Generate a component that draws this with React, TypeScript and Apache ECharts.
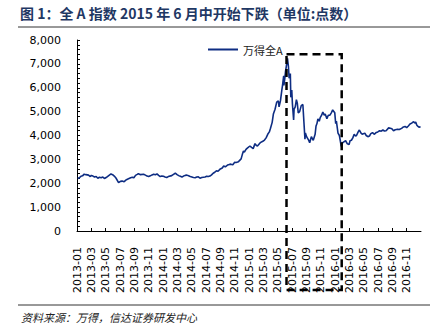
import React, { useEffect, useRef } from "react";
import * as echarts from "echarts";

const seriesName = "万得全A";
const titleText = "图 1：全 A 指数 2015 年 6 月中开始下跌（单位:点数）";
const sourceText = "资料来源：万得，信达证券研发中心";

const dates: string[] = [
  "2013-01-04", "2013-01-11", "2013-01-18", "2013-01-25", "2013-02-01", "2013-02-08", "2013-02-18",
  "2013-02-25", "2013-03-01", "2013-03-08", "2013-03-15", "2013-03-22", "2013-03-29", "2013-04-05",
  "2013-04-12", "2013-04-19", "2013-04-26", "2013-05-03", "2013-05-10", "2013-05-17", "2013-05-24",
  "2013-05-31", "2013-06-07", "2013-06-14", "2013-06-25", "2013-07-03", "2013-07-10", "2013-07-19",
  "2013-07-26", "2013-08-02", "2013-08-09", "2013-08-16", "2013-08-23", "2013-08-30", "2013-09-06",
  "2013-09-13", "2013-09-18", "2013-09-27", "2013-10-10", "2013-10-18", "2013-10-25", "2013-11-01",
  "2013-11-08", "2013-11-15", "2013-11-22", "2013-11-29", "2013-12-06", "2013-12-13", "2013-12-20",
  "2013-12-27", "2014-01-03", "2014-01-10", "2014-01-17", "2014-01-24", "2014-02-07", "2014-02-14",
  "2014-02-21", "2014-02-28", "2014-03-07", "2014-03-14", "2014-03-21", "2014-03-28", "2014-04-04",
  "2014-04-11", "2014-04-18", "2014-04-25", "2014-05-09", "2014-05-16", "2014-05-23", "2014-05-30",
  "2014-06-06", "2014-06-13", "2014-06-20", "2014-06-27", "2014-07-04", "2014-07-11", "2014-07-18",
  "2014-07-25", "2014-08-01", "2014-08-08", "2014-08-15", "2014-08-22", "2014-09-01", "2014-09-09",
  "2014-09-15", "2014-09-22", "2014-10-01", "2014-10-10", "2014-10-15", "2014-10-24", "2014-11-01",
  "2014-11-07", "2014-11-17", "2014-11-21", "2014-11-28", "2014-12-03", "2014-12-08", "2014-12-12",
  "2014-12-19", "2014-12-26", "2015-01-05", "2015-01-12", "2015-01-19", "2015-01-27", "2015-02-02",
  "2015-02-06", "2015-02-17", "2015-02-27", "2015-03-06", "2015-03-13", "2015-03-20", "2015-03-27",
  "2015-04-01", "2015-04-08", "2015-04-13", "2015-04-20", "2015-04-27", "2015-05-04", "2015-05-07",
  "2015-05-13", "2015-05-19", "2015-05-22", "2015-05-27", "2015-05-28", "2015-06-01", "2015-06-04",
  "2015-06-08", "2015-06-12", "2015-06-16", "2015-06-19", "2015-06-24", "2015-06-26", "2015-06-30",
  "2015-07-03", "2015-07-08", "2015-07-10", "2015-07-15", "2015-07-20", "2015-07-24", "2015-07-28",
  "2015-08-03", "2015-08-10", "2015-08-17", "2015-08-21", "2015-08-26", "2015-08-28", "2015-09-02",
  "2015-09-10", "2015-09-15", "2015-09-22", "2015-09-30", "2015-10-08", "2015-10-12", "2015-10-16",
  "2015-10-20", "2015-10-26", "2015-10-30", "2015-11-05", "2015-11-10", "2015-11-16", "2015-11-20",
  "2015-11-27", "2015-12-03", "2015-12-10", "2015-12-16", "2015-12-22", "2015-12-31", "2016-01-04",
  "2016-01-07", "2016-01-14", "2016-01-20", "2016-01-28", "2016-02-03", "2016-02-15", "2016-02-22",
  "2016-02-29", "2016-03-04", "2016-03-10", "2016-03-16", "2016-03-22", "2016-03-28", "2016-04-01",
  "2016-04-08", "2016-04-13", "2016-04-20", "2016-04-25", "2016-05-06", "2016-05-12", "2016-05-19",
  "2016-05-26", "2016-06-01", "2016-06-08", "2016-06-15", "2016-06-24", "2016-06-30", "2016-07-08",
  "2016-07-15", "2016-07-22", "2016-07-29", "2016-08-05", "2016-08-16", "2016-08-23", "2016-08-30",
  "2016-09-06", "2016-09-13", "2016-09-23", "2016-09-30", "2016-10-10", "2016-10-18", "2016-10-25",
  "2016-11-01", "2016-11-08", "2016-11-15", "2016-11-22", "2016-11-30", "2016-12-05", "2016-12-09",
  "2016-12-14", "2016-12-19", "2016-12-23", "2016-12-30",
];

const values: number[] = [
  2200, 2230, 2290, 2310, 2380, 2360, 2340,
  2280, 2330, 2300, 2260, 2280, 2210, 2250,
  2230, 2260, 2200, 2240, 2290, 2340, 2390,
  2360, 2300, 2220, 2030, 2080, 2090, 2060,
  2130, 2170, 2200, 2230, 2250, 2230, 2330,
  2370, 2400, 2360, 2380, 2340, 2300, 2280,
  2310, 2350, 2380, 2360, 2390, 2330, 2280,
  2300, 2290, 2260, 2240, 2280, 2320, 2370,
  2420, 2360, 2320, 2290, 2260, 2300, 2330,
  2340, 2310, 2280, 2240, 2230, 2260, 2270,
  2210, 2240, 2250, 2260, 2290, 2280, 2300,
  2350, 2420, 2460, 2520, 2500, 2600, 2640,
  2720, 2690, 2760, 2790, 2800, 2770, 2880,
  2870, 2900, 2950, 3020, 3200, 3350, 3300,
  3420, 3480, 3560, 3500, 3450, 3660, 3580,
  3560, 3700, 3760, 3810, 3900, 4050, 4150,
  4300, 4550, 4900, 5100, 5400, 5450, 5200,
  5450, 5900, 6100, 6500, 6100, 6400, 6700,
  6950, 7230, 6900, 6400, 6600, 5600, 5900,
  5300, 4650, 5100, 5200, 5500, 5350, 4950,
  5000, 5250, 5300, 4650, 3850, 4100, 3950,
  3820, 3700, 3950, 3800, 4050, 4400, 4500,
  4700, 4600, 4750, 4850, 4980, 4850, 4900,
  4700, 4850, 4850, 4950, 5070, 4950, 4500,
  4600, 4100, 4000, 3550, 3700, 3780, 3650,
  3620, 3780, 3800, 3900, 4050, 3980, 4000,
  4150, 4230, 4100, 4050, 4100, 4000, 3950,
  3980, 4080, 4120, 4050, 4130, 4150, 4200,
  4180, 4230, 4190, 4200, 4320, 4300, 4280,
  4200, 4240, 4260, 4250, 4300, 4360, 4380,
  4330, 4400, 4480, 4520, 4580, 4520, 4560,
  4430, 4380, 4350, 4360,
];

const yTicks: number[] = [0, 1000, 2000, 3000, 4000, 5000, 6000, 7000, 8000];
const boxDates: string[] = ["2015-06-08", "2016-01-30"];
const boxTopValue = 7400;

function monthIndex(d: string): number {
  const [y, m, day] = d.split("-").map(Number);
  const dim = new Date(y, m, 0).getDate();
  return (y - 2013) * 12 + (m - 1) + (day - 1) / dim;
}

function monthLabel(v: number): string {
  const k = Math.round(v);
  const y = 2013 + Math.floor(k / 12);
  const m = (k % 12) + 1;
  return `${y}-${m < 10 ? "0" + m : m}`;
}

export default function App() {
  const ref = useRef<HTMLDivElement>(null);
  useEffect(() => {
    if (!ref.current) return;
    const chart = echarts.init(ref.current, undefined, { renderer: "svg" });
    const data = dates.map((d, i) => [monthIndex(d), values[i]]);
    chart.setOption({
      animation: false,
      grid: { left: 77, right: 24, top: 40, bottom: 98, containLabel: false },
      legend: {
        left: 203,
        top: 39,
        itemWidth: 30,
        itemHeight: 8,
        data: [{ name: seriesName, icon: "path://M0,0 L30,0 L30,2 L0,2 Z" }],
        textStyle: { fontSize: 11, color: "#222", fontFamily: "Noto Sans CJK SC" },
        itemGap: 4,
      },
      xAxis: {
        type: "value",
        min: 0,
        max: 48,
        interval: 2,
        axisLine: { show: true, lineStyle: { color: "#000", width: 1 } },
        axisTick: { show: true, inside: true, length: 3, lineStyle: { color: "#000" } },
        splitLine: { show: false },
        axisLabel: {
          rotate: 90,
          margin: 16,
          fontSize: 11,
          color: "#000",
          fontFamily: "DejaVu Sans",
          showMaxLabel: false,
          formatter: (v: number) => monthLabel(v),
        },
      },
      yAxis: {
        type: "value",
        min: yTicks[0],
        max: yTicks[yTicks.length - 1],
        interval: 1000,
        axisLine: { show: true, lineStyle: { color: "#000", width: 1 } },
        axisTick: { show: true, inside: true, length: 3, lineStyle: { color: "#000" } },
        minorTick: { show: true, splitNumber: 5, length: 3, lineStyle: { color: "#000" } },
        splitLine: { show: false },
        axisLabel: {
          margin: 16,
          fontSize: 11,
          color: "#000",
          fontFamily: "DejaVu Sans",
          formatter: (v: number) => v.toLocaleString("en-US"),
        },
      },
      series: [
        {
          name: seriesName,
          type: "line",
          data,
          showSymbol: false,
          lineStyle: { color: "#0E2D83", width: 1.6 },
          itemStyle: { color: "#0E2D83" },
        },
      ],
    });
    const p0 = chart.convertToPixel({ gridIndex: 0 }, [monthIndex(boxDates[0]), boxTopValue]) as number[];
    const p1 = chart.convertToPixel({ gridIndex: 0 }, [monthIndex(boxDates[1]), boxTopValue]) as number[];
    chart.setOption({
      graphic: [
        {
          type: "text",
          left: 20,
          top: 6,
          style: {
            text: titleText,
            fontSize: 14,
            fontWeight: "bold",
            fill: "#1F3864",
            fontFamily: "Noto Sans CJK SC",
          },
        },
        {
          type: "line",
          shape: { x1: 18, y1: 27, x2: 430, y2: 27 },
          style: { stroke: "#333", lineWidth: 1 },
        },
        {
          type: "line",
          shape: { x1: 18, y1: 305, x2: 430, y2: 305 },
          style: { stroke: "#333", lineWidth: 1 },
        },
        {
          type: "text",
          left: 21,
          top: 311,
          style: {
            text: sourceText,
            fontSize: 11,
            fontStyle: "italic",
            fill: "#222",
            fontFamily: "Noto Sans CJK SC",
          },
        },
        {
          type: "rect",
          z: 100,
          shape: { x: p0[0], y: p0[1], width: p1[0] - p0[0], height: 290 - p0[1] },
          style: { fill: "none", stroke: "#000", lineWidth: 2.5, lineDash: [8, 5] },
        },
      ],
    });
    return () => chart.dispose();
  }, []);
  return (
    <div
      ref={ref}
      style={{ position: "fixed", left: 0, top: 0, width: 445, height: 329, background: "#fff" }}
    />
  );
}
